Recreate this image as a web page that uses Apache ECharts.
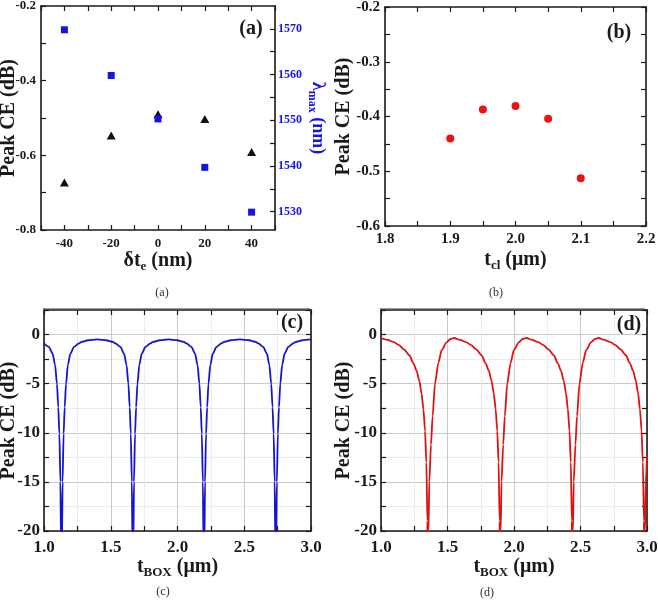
<!DOCTYPE html>
<html><head><meta charset="utf-8">
<script src="https://cdn.jsdelivr.net/npm/echarts@6/dist/echarts.min.js"></script>
<style>html,body{margin:0;padding:0;background:#fff}#c{width:658px;height:605px}</style>
</head><body><div id="c"></div>
<script>
// ---------------- data ----------------
// (a)
const dtE = [-40, -20, 0, 20, 40];
const peakCEa = [-0.673, -0.547, -0.490, -0.503, -0.591];
const lambdaMax = [1569.8, 1559.8, 1550.3, 1539.7, 1529.9];
const aXLabels = [-40, -20, 0, 20, 40];
const aYLabels = [-0.8, -0.6, -0.4, -0.2];
const aY2Labels = [1530, 1540, 1550, 1560, 1570];
const aY2Ticks = [1530, 1535, 1540, 1545, 1550, 1555, 1560, 1565, 1570];
// (b)
const tCl = [1.90, 1.95, 2.00, 2.05, 2.10];
const peakCEb = [-0.440, -0.387, -0.381, -0.404, -0.513];
const bXLabels = [1.8, 1.9, 2.0, 2.1, 2.2];
const bYLabels = [-0.6, -0.5, -0.4, -0.3, -0.2];
// (c)
const tBoxC = [1.000,1.037,1.065,1.083,1.097,1.107,1.115,1.123,1.127,1.131,1.135,1.139,1.147,1.155,1.165,1.179,1.197,1.225,1.261,1.281,1.331,1.3985,
 1.466,1.516,1.536,1.572,1.600,1.618,1.632,1.642,1.650,1.658,1.662,1.666,1.670,1.674,1.682,1.690,1.700,1.714,1.732,1.760,1.796,1.816,1.866,1.932,
 1.998,2.048,2.068,2.104,2.132,2.150,2.164,2.174,2.182,2.190,2.194,2.198,2.202,2.206,2.214,2.222,2.232,2.246,2.264,2.292,2.328,2.348,2.398,2.467,
 2.536,2.586,2.606,2.642,2.670,2.688,2.702,2.712,2.720,2.728,2.732,2.736,2.740,2.744,2.752,2.760,2.770,2.784,2.802,2.830,2.866,2.886,2.936,3.000];
const peakCEc = [-0.9,-1.26,-1.95,-3.1,-5.0,-7.4,-10.1,-15,-21,-40,-21,-15,-10.1,-7.4,-5.0,-3.1,-1.95,-1.26,-0.9,-0.75,-0.58,-0.5,
 -0.58,-0.75,-0.9,-1.26,-1.95,-3.1,-5.0,-7.4,-10.1,-15,-21,-40,-21,-15,-10.1,-7.4,-5.0,-3.1,-1.95,-1.26,-0.9,-0.75,-0.58,-0.5,
 -0.58,-0.75,-0.9,-1.26,-1.95,-3.1,-5.0,-7.4,-10.1,-15,-21,-40,-21,-15,-10.1,-7.4,-5.0,-3.1,-1.95,-1.26,-0.9,-0.75,-0.58,-0.5,
 -0.58,-0.75,-0.9,-1.26,-1.95,-3.1,-5.0,-7.4,-10.1,-15,-21,-40,-21,-15,-10.1,-7.4,-5.0,-3.1,-1.95,-1.26,-0.9,-0.75,-0.58,-0.5];
// (d)
const tBoxD = [1.000,1.053,1.093,1.133,1.173,1.213,1.243,1.268,1.288,1.305,1.319,1.331,1.341,1.349,1.353,1.357,1.363,1.376,1.388,1.406,1.431,1.456,1.493,1.523,1.549,
 1.596,1.636,1.676,1.716,1.756,1.786,1.811,1.831,1.848,1.862,1.874,1.884,1.892,1.896,1.900,1.906,1.919,1.931,1.949,1.974,1.999,2.036,2.066,2.092,
 2.139,2.179,2.219,2.259,2.299,2.329,2.354,2.374,2.391,2.405,2.417,2.427,2.435,2.439,2.443,2.449,2.462,2.474,2.492,2.517,2.542,2.579,2.609,2.635,
 2.681,2.721,2.761,2.801,2.841,2.871,2.896,2.916,2.933,2.947,2.959,2.969,2.977,2.981,2.985,2.991,3.000];
const peakCEd = [-0.35,-0.55,-0.75,-1.05,-1.5,-2.1,-2.9,-3.7,-4.7,-6.0,-7.6,-9.8,-13.0,-19,-40,-20,-15,-11.2,-8.3,-5.0,-2.9,-1.6,-0.8,-0.45,-0.35,
 -0.55,-0.75,-1.05,-1.5,-2.1,-2.9,-3.7,-4.7,-6.0,-7.6,-9.8,-13.0,-19,-40,-20,-15,-11.2,-8.3,-5.0,-2.9,-1.6,-0.8,-0.45,-0.35,
 -0.55,-0.75,-1.05,-1.5,-2.1,-2.9,-3.7,-4.7,-6.0,-7.6,-9.8,-13.0,-19,-40,-20,-15,-11.2,-8.3,-5.0,-2.9,-1.6,-0.8,-0.45,-0.35,
 -0.55,-0.75,-1.05,-1.5,-2.1,-2.9,-3.7,-4.7,-6.0,-7.6,-9.8,-13.0,-19,-40,-20,-15,-12.3];
const cdXLabels = [1.0, 1.5, 2.0, 2.5, 3.0];
const cdYLabels = [-20, -15, -10, -5, 0];

// ---------------- styling helpers ----------------
const FONT = '"Liberation Serif", "Times New Roman", serif';
const INK = '#1a1a1a';
const BLUE = '#1414e6';

function zip(a, b) { return a.map((v, i) => [v, b[i]]); }

function axis(o) {
  const ax = {
    type: 'value', gridIndex: o.grid, min: o.min, max: o.max, interval: o.interval,
    position: o.pos, scale: true,
    axisLine: { show: true, onZero: false, lineStyle: { color: INK, width: 1.6 } },
    axisTick: { show: true, inside: true, length: 5, lineStyle: { color: INK, width: 1.2 } },
    axisLabel: { show: !!o.labels },
    splitLine: { show: false }
  };
  if (o.tickValues) ax.axisTick.customValues = o.tickValues;
  if (o.labels) {
    ax.axisLabel = {
      show: true, customValues: o.labels,
      formatter: v => (o.dec != null ? Number(v).toFixed(o.dec) : String(Math.round(v))),
      fontFamily: FONT, fontWeight: 'bold', fontSize: o.fs, color: o.labelColor || INK,
      margin: o.margin
    };
  }
  if (o.grid2) {
    ax.splitLine = { show: true, lineStyle: { color: ['#c9c9c9', '#ececec'], width: 1 } };
  }
  if (o.name) {
    ax.name = o.name; ax.nameLocation = 'middle'; ax.nameGap = o.nameGap;
    ax.nameMoveOverlap = false;
    if (o.nameRotate != null) ax.nameRotate = o.nameRotate;
    const c = o.nameColor || INK;
    ax.nameTextStyle = {
      rich: {
        t: { fontFamily: FONT, fontWeight: 'bold', fontSize: o.nfs, color: c },
        s: { fontFamily: FONT, fontWeight: 'bold', fontSize: Math.round(o.nfs * 0.65), color: c, padding: [o.subDrop, 0, 0, 0] }
      }
    };
  }
  return ax;
}

const grids = [
  { left: 41, top: 6, width: 234, height: 224 },
  { left: 385, top: 7, width: 261, height: 219 },
  { left: 44, top: 310, width: 267, height: 221 },
  { left: 381, top: 310, width: 266, height: 221 }
].map(g => Object.assign({ outerBoundsMode: 'none', containLabel: false }, g));

const xAxis = [
  // (a)
  axis({ grid: 0, pos: 'bottom', min: -50, max: 50, interval: 10, labels: aXLabels, fs: 13, margin: 7,
         name: '{t|δt}{s|e}{t| (nm)}', nameGap: 18, nfs: 20, subDrop: 12 }),
  axis({ grid: 0, pos: 'top', min: -50, max: 50, interval: 10 }),
  // (b)
  axis({ grid: 1, pos: 'bottom', min: 1.8, max: 2.2, interval: 0.05, labels: bXLabels, dec: 1, fs: 15, margin: 6,
         name: '{t|t}{s|cl}{t| (μm)}', nameGap: 21, nfs: 20, subDrop: 12 }),
  axis({ grid: 1, pos: 'top', min: 1.8, max: 2.2, interval: 0.05 }),
  // (c)
  axis({ grid: 2, pos: 'bottom', min: 1, max: 3, interval: 0.25, labels: cdXLabels, dec: 1, fs: 17, margin: 8, grid2: true,
         name: '{t|t}{s|BOX}{t| (μm)}', nameGap: 23, nfs: 20, subDrop: 12 }),
  axis({ grid: 2, pos: 'top', min: 1, max: 3, interval: 0.25 }),
  // (d)
  axis({ grid: 3, pos: 'bottom', min: 1, max: 3, interval: 0.25, labels: cdXLabels, dec: 1, fs: 17, margin: 8, grid2: true,
         name: '{t|t}{s|BOX}{t| (μm)}', nameGap: 23, nfs: 20, subDrop: 12 }),
  axis({ grid: 3, pos: 'top', min: 1, max: 3, interval: 0.25 })
];

const yAxis = [
  // (a) left
  axis({ grid: 0, pos: 'left', min: -0.8, max: -0.2, interval: 0.1, labels: aYLabels, dec: 1, fs: 13, margin: 5,
         name: '{t|Peak CE (dB)}', nameGap: 22, nfs: 20, subDrop: 0 }),
  // (a) right, lambda
  axis({ grid: 0, pos: 'right', min: 1526, max: 1575, tickValues: aY2Ticks, labels: aY2Labels, fs: 12, margin: 3,
         labelColor: BLUE, name: '{t|λ}{s|max}{t| (nm)}', nameGap: 31, nfs: 18, subDrop: 12, nameColor: BLUE, nameRotate: -90 }),
  // (b)
  axis({ grid: 1, pos: 'left', min: -0.6, max: -0.2, interval: 0.05, labels: bYLabels, dec: 1, fs: 15, margin: 5,
         name: '{t|Peak CE (dB)}', nameGap: 31, nfs: 20, subDrop: 0 }),
  axis({ grid: 1, pos: 'right', min: -0.6, max: -0.2, interval: 0.05 }),
  // (c)
  axis({ grid: 2, pos: 'left', min: -20, max: 2.5, interval: 2.5, labels: cdYLabels, fs: 17, margin: 4, grid2: true,
         name: '{t|Peak CE (dB)}', nameGap: 25, nfs: 20, subDrop: 0 }),
  axis({ grid: 2, pos: 'right', min: -20, max: 2.5, interval: 2.5 }),
  // (d)
  axis({ grid: 3, pos: 'left', min: -20, max: 2.5, interval: 2.5, labels: cdYLabels, fs: 17, margin: 4, grid2: true,
         name: '{t|Peak CE (dB)}', nameGap: 27, nfs: 20, subDrop: 0 }),
  axis({ grid: 3, pos: 'right', min: -20, max: 2.5, interval: 2.5 })
];

const series = [
  { type: 'scatter', xAxisIndex: 0, yAxisIndex: 0, data: zip(dtE, peakCEa), symbol: 'triangle', symbolSize: [9, 8],
    itemStyle: { color: '#111', opacity: 1 } },
  { type: 'scatter', xAxisIndex: 0, yAxisIndex: 1, data: zip(dtE, lambdaMax), symbol: 'rect', symbolSize: 7,
    itemStyle: { color: BLUE, opacity: 1 } },
  { type: 'scatter', xAxisIndex: 2, yAxisIndex: 2, data: zip(tCl, peakCEb), symbol: 'circle', symbolSize: 8,
    itemStyle: { color: '#ee1111', opacity: 1 } },
  { type: 'line', xAxisIndex: 4, yAxisIndex: 4, data: zip(tBoxC, peakCEc), showSymbol: false, symbol: 'none',
    smooth: 0.25, smoothMonotone: 'x', clip: true, lineStyle: { color: '#1515d0', width: 1.8 } },
  { type: 'line', xAxisIndex: 6, yAxisIndex: 6, data: zip(tBoxD, peakCEd), showSymbol: false, symbol: 'none',
    smooth: 0.25, smoothMonotone: 'x', clip: true, lineStyle: { color: '#e01010', width: 1.8 } }
];

function txt(x, y, t, font, fill) {
  return { type: 'text', x, y, silent: true, z: 100,
    style: { text: t, font, fill: fill || INK, textAlign: 'center', textVerticalAlign: 'middle', align: 'center', verticalAlign: 'middle' } };
}
function hline(x1, x2, y) {
  return { type: 'line', silent: true, shape: { x1, y1: y, x2, y2: y }, style: { stroke: '#9a9a9a', lineWidth: 1 } };
}
const PF = 'bold 20px ' + FONT;
const CF = '12px ' + FONT;
const graphic = [
  txt(251, 29, '(a)', PF), txt(619, 33, '(b)', PF), txt(292, 323, '(c)', PF), txt(629, 325, '(d)', PF),
  txt(162, 293, '(a)', CF, '#333'), txt(496, 293, '(b)', CF, '#333'),
  txt(163, 592, '(c)', CF, '#333'), txt(487, 593, '(d)', CF, '#333'),
  hline(43, 310, 308.5), hline(380, 645, 308.5)
];

const chart = echarts.init(document.getElementById('c'), null, { renderer: 'canvas' });
chart.setOption({
  animation: false, backgroundColor: '#fff',
  grid: grids, xAxis, yAxis, series, graphic
});
</script>
</body></html>
